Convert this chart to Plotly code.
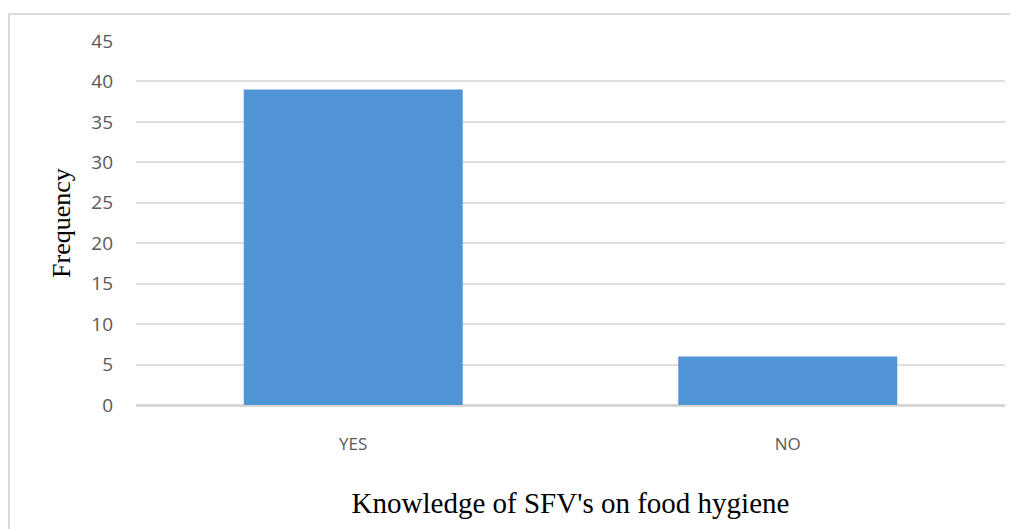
import plotly.graph_objects as go

categories = ["YES", "NO"]
frequency = [39, 6]
y_ticks = [0, 5, 10, 15, 20, 25, 30, 35, 40, 45]

# page body has an 8px margin, so the figure is sized/positioned accordingly
W, H = 1010, 521
L, R, T, B = 128, 13, 33, 124
pw, ph = W - L - R, H - T - B

fig = go.Figure()
fig.add_trace(go.Bar(
    x=categories, y=frequency, width=0.504,
    marker=dict(color="#5194d6", line=dict(width=0)),
    hoverinfo="x+y",
))

fig.update_layout(
    width=W, height=H,
    margin=dict(l=L, r=R, t=T, b=B),
    paper_bgcolor="white", plot_bgcolor="white",
    showlegend=False,
    font=dict(family="Open Sans", color="#595959", size=16),
    xaxis=dict(
        showgrid=False, zeroline=False, showline=False,
        ticks="", ticklabelstandoff=27,
        tickfont=dict(family="Open Sans", size=17, color="#595959"),
        title=dict(text="Knowledge of SFV's on food hygiene",
                   font=dict(family="Liberation Serif", size=29, color="black"),
                   standoff=38),
    ),
    yaxis=dict(
        range=[0, 45], tickvals=y_ticks,
        showgrid=True, gridcolor="#dedede", gridwidth=1.5,
        zeroline=True, zerolinecolor="#d6d6d6", zerolinewidth=2.5,
        showline=False, ticks="", ticklabelstandoff=22,
        tickfont=dict(family="Open Sans", size=19, color="#595959"),
        title=dict(text="Frequency",
                   font=dict(family="Liberation Serif", size=26, color="black"),
                   standoff=13),
    ),
    shapes=[dict(
        type="rect", xref="paper", yref="paper",
        x0=(1 - L) / pw, x1=1.2,
        y0=-0.5, y1=(H - B - 6) / ph,
        line=dict(color="#d9d9d9", width=2), fillcolor="rgba(0,0,0,0)",
        layer="below",
    )],
)

fig.write_html("out.html")
